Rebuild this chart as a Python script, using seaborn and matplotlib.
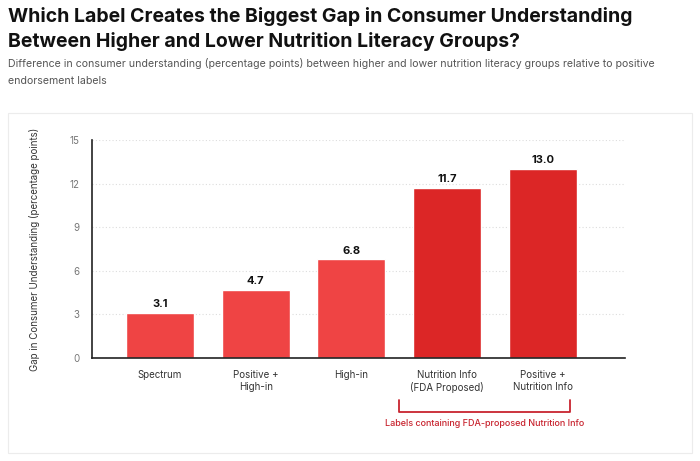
import matplotlib
matplotlib.use("Agg")
import matplotlib.pyplot as plt
import seaborn as sns
import pandas as pd
from matplotlib.patches import Rectangle

categories = ["Spectrum", "Positive +\nHigh-in", "High-in",
              "Nutrition Info\n(FDA Proposed)", "Positive +\nNutrition Info"]
gap_values = [3.1, 4.7, 6.8, 11.7, 13.0]
bar_colors = ["#EF4444", "#EF4444", "#EF4444", "#DC2626", "#DC2626"]
y_ticks = [0, 3, 6, 9, 12, 15]

df = pd.DataFrame({"label": categories, "gap": gap_values})

sns.set_style("white")
plt.rcParams["font.family"] = ["Inter", "DejaVu Sans"]

fig = plt.figure(figsize=(7, 4.61), dpi=100)

# card behind the chart
card = Rectangle((8 / 700, 8 / 461), 684 / 700, 340 / 461,
                 transform=fig.transFigure, facecolor="white",
                 edgecolor="#ececec", linewidth=0.8, zorder=-10)
fig.patches.append(card)

ax = fig.add_axes([92 / 700, 1 - 358 / 461, 533 / 700, 218 / 461])
ax.patch.set_alpha(0)
sns.barplot(data=df, x="label", y="gap", hue="label", palette=bar_colors,
            legend=False, width=0.71, ax=ax, saturation=1)

ax.set_xlim(-0.71, 4.86)
ax.set_ylim(0, 15)
ax.set_yticks(y_ticks)
ax.set_yticklabels([str(t) for t in y_ticks], color="#777777", fontsize=7)
ax.tick_params(axis="x", labelsize=7, colors="#333333", length=0, pad=9)
ax.tick_params(axis="y", length=0, pad=9)
ax.set_xlabel("")
ax.set_ylabel("Gap in Consumer Understanding (percentage points)",
              fontsize=7, color="#333333", labelpad=21)

ax.grid(axis="y", linestyle=(0, (1, 2)), color="#dddddd", linewidth=0.8)
ax.set_axisbelow(True)
for s in ["top", "right"]:
    ax.spines[s].set_visible(False)
for s in ["left", "bottom"]:
    ax.spines[s].set_color("#222222")
    ax.spines[s].set_linewidth(1.2)

for i, v in enumerate(gap_values):
    ax.text(i, v + 0.25, f"{v:.1f}", ha="center", va="bottom",
            fontsize=8, fontweight="bold", color="#111111")

# bracket under the FDA nutrition info bars
bx0, bx1 = 399 / 700, 570 / 700
by0, by1 = 1 - 400 / 461, 1 - 412 / 461
fig.add_artist(plt.Line2D([bx0, bx0, bx1, bx1], [by0, by1, by1, by0],
                          transform=fig.transFigure, color="#C8242F", linewidth=1.3))
fig.text((bx0 + bx1) / 2, 1 - 423 / 461, "Labels containing FDA-proposed Nutrition Info",
         ha="center", va="center", fontsize=6.5, color="#C8242F", fontweight="medium")

fig.text(8 / 700, 1 - 29 / 461,
         "Which Label Creates the Biggest Gap in Consumer Understanding\n"
         "Between Higher and Lower Nutrition Literacy Groups?",
         ha="left", va="center", fontsize=14, fontweight="bold",
         color="#111111", linespacing=1.35)
fig.text(8 / 700, 1 - 72 / 461,
         "Difference in consumer understanding (percentage points) between higher and lower nutrition literacy groups relative to positive\n"
         "endorsement labels",
         ha="left", va="center", fontsize=7.6, color="#555555", linespacing=1.8)

fig.savefig("out.png", dpi=100)
